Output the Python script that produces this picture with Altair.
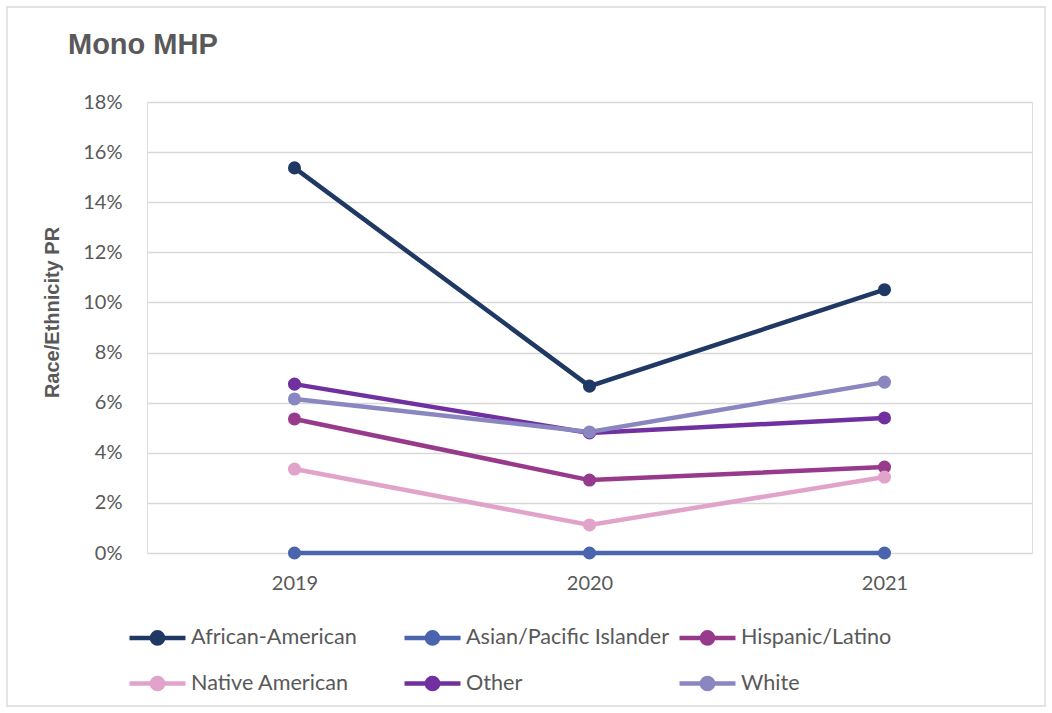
import altair as alt
import pandas as pd

years = ["2019", "2020", "2021"]
series = ["African-American", "Asian/Pacific Islander", "Hispanic/Latino",
          "Native American", "Other", "White"]
african_american = [0.1537, 0.0666, 0.1051]
asian_pacific = [0.0, 0.0, 0.0]
hispanic_latino = [0.0535, 0.0291, 0.0343]
native_american = [0.0335, 0.0112, 0.0303]
other = [0.0674, 0.0479, 0.0539]
white = [0.0615, 0.0483, 0.0682]
colors = ["#1F3864", "#4A65AD", "#983A8C", "#E2A3CA", "#7030A0", "#8A86C0"]

values = [african_american, asian_pacific, hispanic_latino, native_american, other, white]
rows = []
for s, vals in zip(series, values):
    for y, v in zip(years, vals):
        rows.append({"Year": y, "Series": s, "Value": v})
df = pd.DataFrame(rows)

W, H = 885, 451
sym_path = "M-2,0 L2,0 M-0.4,0 A0.4,0.4 0 1,1 0.4,0 A0.4,0.4 0 1,1 -0.4,0 Z"

color = alt.Color(
    "Series:N",
    scale=alt.Scale(domain=series, range=colors),
    legend=alt.Legend(
        title=None, orient="none", legendX=-20, legendY=519, columns=3,
        direction="horizontal", gridAlign="all",
        symbolType=sym_path, symbolSize=784, symbolStrokeWidth=4.5,
        symbolOffset=14, labelOffset=17, columnPadding=0, rowPadding=14,
        labelFont="Lato", labelFontSize=21.6, labelColor="#595959", labelLimit=400,
    ),
)

x = alt.X("Year:N", sort=years, title=None,
          scale=alt.Scale(paddingInner=0, paddingOuter=0),
          axis=alt.Axis(labelAngle=0, domain=False, ticks=False, labelPadding=20,
                        labelFont="Lato", labelFontSize=20, labelColor="#595959"))
y = alt.Y("Value:Q", title="Race/Ethnicity PR",
          scale=alt.Scale(domain=[0, 0.18], nice=False),
          axis=alt.Axis(format=".0%", values=[i / 100 for i in range(0, 19, 2)],
                        domain=False, ticks=False, labelPadding=25,
                        gridColor="#d9d9d9", gridWidth=1.3,
                        labelFont="Lato", labelFontSize=20, labelColor="#595959",
                        titleFont="Liberation Sans", titleFontSize=20, titleFontWeight="bold",
                        titleColor="#595959", titleX=-95, titleY=210,
                        titleAngle=-90, titleAlign="center", titleBaseline="middle"))

base = alt.Chart(df)
lines = base.mark_line(strokeWidth=4.5).encode(x=x, y=y, color=color)
points = base.mark_circle(size=170, opacity=1).encode(x=x, y=y, color=color)

frame = alt.Chart(pd.DataFrame({"a": [0]})).mark_rect(
    fill=None, stroke="#d9d9d9", strokeWidth=1.3
).encode(x=alt.value(-140), x2=alt.value(898), y=alt.value(-95), y2=alt.value(604))

chart = alt.layer(frame, lines, points).properties(
    width=W, height=H,
    title=alt.TitleParams("Mono MHP", anchor="start", frame="group", dx=-79, offset=-54,
                          font="Liberation Sans", fontSize=29, fontWeight="bold",
                          color="#595959"),
    padding={"left": 147, "top": 102, "right": 20, "bottom": 160},
    autosize="none",
).configure_view(stroke=None).configure(background="white")

chart.save("out.html", embed_options={"renderer": "svg", "actions": False})
